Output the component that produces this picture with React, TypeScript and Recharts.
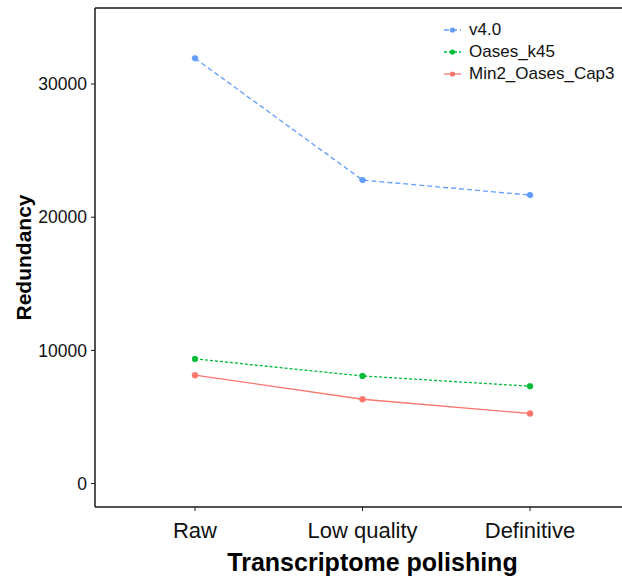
import React from "react";
import { LineChart, Line, XAxis, YAxis, ReferenceLine } from "recharts";

const stages = ["Raw", "Low quality", "Definitive"];
const v40 = [31930, 22790, 21660];
const oasesK45 = [9360, 8080, 7310];
const min2OasesCap3 = [8140, 6330, 5260];
const yTicks = [0, 10000, 20000, 30000];
const yDomain = [-1760, 35710];

const FONT = "'Liberation Sans', Arial, Helvetica, sans-serif";

const series = [
  { key: "v4.0", color: "#619CFF", dash: "5 3" },
  { key: "Oases_k45", color: "#00BA38", dash: "3 2" },
  { key: "Min2_Oases_Cap3", color: "#F8766D", dash: undefined as string | undefined },
];

const data = stages.map((s, i) => ({
  stage: s,
  "v4.0": v40[i],
  Oases_k45: oasesK45[i],
  Min2_Oases_Cap3: min2OasesCap3[i],
}));

function LegendBox() {
  return (
    <div style={{ position: "absolute", left: 444, top: 19, fontFamily: FONT, fontSize: 17, color: "#111", lineHeight: "22px" }}>
      {series.map(s => (
        <div key={s.key} style={{ display: "flex", alignItems: "center", height: 22 }}>
          <svg width={22} height={10} style={{ marginRight: 3 }}>
            <line x1={0} y1={5} x2={17} y2={5} stroke={s.color} strokeWidth={1.3} strokeDasharray={s.dash} />
            <circle cx={8.5} cy={5} r={2.6} fill={s.color} />
          </svg>
          <span>{s.key}</span>
        </div>
      ))}
    </div>
  );
}

export default function App() {
  return (
    <div style={{ position: "absolute", left: 0, top: 0, width: 622, height: 578, overflow: "hidden", background: "#fff" }}>
      <LineChart width={640} height={578} data={data} margin={{ top: 8, right: 10, left: 0, bottom: 0 }}>
        <XAxis dataKey="stage" type="category" height={71} padding={{ left: 100, right: 100 }}
          axisLine={{ stroke: "#1a1a1a", strokeWidth: 1.5 }} tickLine={{ stroke: "#1a1a1a" }}
          tickSize={4} tickMargin={11}
          tick={{ fontSize: 22, fill: "#111", fontFamily: FONT }}
          label={(p: any) => {
            const vb = p.viewBox;
            return (
              <text x={vb.x + vb.width / 2 + 10} y={vb.y + 64} textAnchor="middle"
                style={{ fontSize: 25, fontWeight: 700, fontFamily: FONT, fill: "#000" }}>
                Transcriptome polishing
              </text>
            );
          }} />
        <YAxis type="number" domain={yDomain} ticks={yTicks} width={95}
          axisLine={{ stroke: "#1a1a1a", strokeWidth: 1.5 }} tickLine={{ stroke: "#1a1a1a" }}
          tickSize={4} tickMargin={4}
          tick={{ fontSize: 17.5, fill: "#111", fontFamily: FONT }}
          label={(p: any) => {
            const vb = p.viewBox;
            const cx = vb.x + 23;
            const cy = vb.y + vb.height / 2;
            return (
              <text x={cx} y={cy} textAnchor="middle" dominantBaseline="central" transform={`rotate(-90 ${cx} ${cy})`}
                style={{ fontSize: 21, fontWeight: 700, fontFamily: FONT, fill: "#000" }}>
                Redundancy
              </text>
            );
          }} />
        {/* top border of the panel */}
        <ReferenceLine y={yDomain[1]} stroke="#1a1a1a" strokeWidth={1.5} ifOverflow="visible" />
        {series.map(s => (
          <Line key={s.key} dataKey={s.key} name={s.key} stroke={s.color} strokeWidth={1.3}
            strokeDasharray={s.dash} isAnimationActive={false}
            dot={{ r: 3, fill: s.color, stroke: s.color, strokeWidth: 0.5 }} activeDot={false} />
        ))}
      </LineChart>
      <LegendBox />
    </div>
  );
}
